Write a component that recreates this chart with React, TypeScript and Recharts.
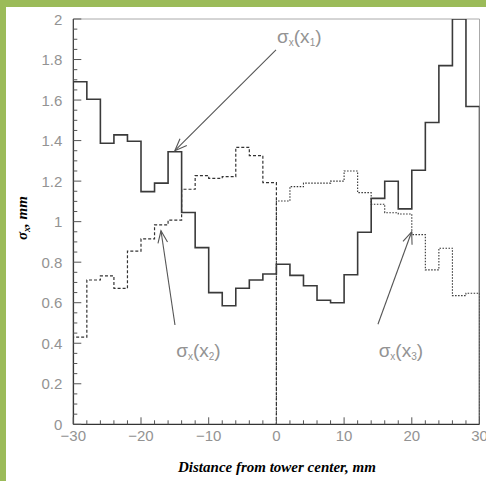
import React from 'react';
import { LineChart, Line, XAxis, YAxis, ReferenceLine, ReferenceDot } from 'recharts';

// bin left edges (mm), bin width 2 mm
const binEdgesAll = [-30, -28, -26, -24, -22, -20, -18, -16, -14, -12, -10, -8, -6, -4, -2, 0, 2, 4, 6, 8, 10, 12, 14, 16, 18, 20, 22, 24, 26, 28];
const binEdgesNeg = [-30, -28, -26, -24, -22, -20, -18, -16, -14, -12, -10, -8, -6, -4, -2];
const binEdgesPos = [0, 2, 4, 6, 8, 10, 12, 14, 16, 18, 20, 22, 24, 26, 28];

// sigma_x(x1): solid histogram over full range
const sigmaX1 = [1.69, 1.604, 1.387, 1.428, 1.397, 1.148, 1.19, 1.345, 1.045, 0.872, 0.65, 0.585, 0.671, 0.712, 0.742,
  0.79, 0.735, 0.684, 0.612, 0.6, 0.738, 0.948, 1.115, 1.199, 1.063, 1.254, 1.489, 1.77, 2.0, 1.568];
// sigma_x(x2): dashed, negative side
const sigmaX2 = [0.43, 0.712, 0.732, 0.671, 0.855, 0.915, 0.984, 1.008, 1.16, 1.227, 1.214, 1.222, 1.367, 1.326, 1.193];
// sigma_x(x3): dotted, positive side
const sigmaX3 = [1.102, 1.173, 1.19, 1.19, 1.2, 1.25, 1.143, 1.086, 1.044, 1.038, 0.936, 0.762, 0.869, 0.635, 0.647];

const xTickLabels = [-30, -20, -10, 0, 10, 20, 30];
const yTickLabels = [0, 0.2, 0.4, 0.6, 0.8, 1, 1.2, 1.4, 1.6, 1.8, 2];

// annotations: [label-end, tip] in data units
const arrowX1 = [{ x: -0.06, y: 1.848 }, { x: -15.0, y: 1.35 }];
const arrowX2 = [{ x: -14.98, y: 0.49 }, { x: -17.05, y: 0.955 }];
const arrowX3 = [{ x: 15.0, y: 0.494 }, { x: 19.98, y: 0.95 }];
const labels = [
  { x: 0.1, y: 1.88, sub: '1' },
  { x: -14.8, y: 0.33, sub: '2' },
  { x: 15.1, y: 0.33, sub: '3' },
];

function histPoints(edges: number[], vals: number[], end: number) {
  const pts = [{ x: edges[0], y: 0 }];
  edges.forEach((e, i) => pts.push({ x: e, y: vals[i] }));
  pts.push({ x: end, y: vals[vals.length - 1] });
  pts.push({ x: end, y: 0 });
  return pts;
}

const dataX1 = histPoints(binEdgesAll, sigmaX1, 30);
const dataX2 = histPoints(binEdgesNeg, sigmaX2, 0);
const dataX3 = histPoints(binEdgesPos, sigmaX3, 30);

const xTicks: number[] = [];
for (let v = -30; v <= 30; v += 2) xTicks.push(v);
const yTicks: number[] = [];
for (let i = 0; i <= 40; i++) yTicks.push(Math.round(i * 5) / 100);

const labelColor = '#939393';
const tickFont = 'Liberation Sans, Arial, sans-serif';

const XTick = (p: any) => {
  const { x, y, payload } = p;
  const v = payload.value;
  const major = xTickLabels.some((t) => Math.abs(t - v) < 1e-6);
  return (
    <g>
      <line x1={x} x2={x} y1={y} y2={y - (major ? 7 : 4)} stroke="#555" strokeWidth={1} />
      {major && (
        <text x={x} y={y + 16.5} textAnchor="middle" fontSize={15} fill={labelColor} fontFamily={tickFont}>
          {v < 0 ? '\u2212' + Math.abs(v) : String(v)}
        </text>
      )}
    </g>
  );
};

const YTick = (p: any) => {
  const { x, y, payload } = p;
  const v = payload.value;
  const major = yTickLabels.some((t) => Math.abs(t - v) < 1e-6);
  return (
    <g>
      <line x1={x} x2={x + (major ? 8 : 4)} y1={y} y2={y} stroke="#555" strokeWidth={1} />
      {major && (
        <text x={x - 11} y={y + 5.5} textAnchor="end" fontSize={15} fill={labelColor} fontFamily={tickFont}>
          {String(v)}
        </text>
      )}
    </g>
  );
};

const ArrowShape = (p: any) => {
  const { x1, y1, x2, y2 } = p;
  const ang = Math.atan2(y2 - y1, x2 - x1);
  const L = 13;
  const a = 0.38;
  const ax = x2 - L * Math.cos(ang - a);
  const ay = y2 - L * Math.sin(ang - a);
  const bx = x2 - L * Math.cos(ang + a);
  const by = y2 - L * Math.sin(ang + a);
  return (
    <g>
      <line x1={x1} y1={y1} x2={x2} y2={y2} stroke="#555" strokeWidth={1.1} />
      <polyline points={`${ax},${ay} ${x2},${y2} ${bx},${by}`} fill="none" stroke="#555" strokeWidth={1.1} />
    </g>
  );
};

const makeLabelShape = (sub: string) => (p: any) => {
  const { cx, cy } = p;
  return (
    <text x={cx} y={cy} fill={labelColor} fontFamily={tickFont} fontSize={19}>
      <tspan>σ</tspan>
      <tspan fontSize={10} dy={3}>x</tspan>
      <tspan dy={-3}>(x</tspan>
      <tspan fontSize={10} dy={3}>{sub}</tspan>
      <tspan dy={-3}>)</tspan>
    </text>
  );
};

export default function App() {
  return (
    <div style={{ position: 'absolute', left: 0, top: 0, width: 486, height: 481, background: '#fff', overflow: 'hidden' }}>
      <div style={{ position: 'absolute', left: 0, top: 0, width: 486, height: 7, background: '#9bbb59' }} />
      <div style={{ position: 'absolute', left: 0, top: 0, width: 6, height: 481, background: '#9bbb59' }} />
      <div style={{ position: 'absolute', left: 0, top: 0 }}>
        <LineChart width={486} height={481} margin={{ top: 19, right: 6.5, bottom: 0, left: 0 }}>
          <XAxis
            type="number"
            dataKey="x"
            domain={[-30, 30]}
            ticks={xTicks}
            interval={0}
            tickSize={0}
            tickMargin={0}
            tickLine={false}
            tick={<XTick />}
            height={56.7}
            axisLine={{ stroke: '#333', strokeWidth: 1.2 }}
            allowDataOverflow
          />
          <YAxis
            type="number"
            dataKey="y"
            domain={[0, 2]}
            ticks={yTicks}
            interval={0}
            tickSize={0}
            tickMargin={0}
            tickLine={false}
            tick={<YTick />}
            width={73.3}
            axisLine={{ stroke: '#333', strokeWidth: 1.2 }}
            allowDataOverflow
          />
          <ReferenceLine y={2} stroke="#aaa" strokeWidth={1} />
          <ReferenceLine x={30} stroke="#aaa" strokeWidth={1} />
          <Line data={dataX2} dataKey="y" type="stepAfter" stroke="#333" strokeWidth={1.2} strokeDasharray="3 2" dot={false} isAnimationActive={false} />
          <Line data={dataX3} dataKey="y" type="stepAfter" stroke="#333" strokeWidth={1.1} strokeDasharray="1.5 1.5" dot={false} isAnimationActive={false} />
          <Line data={dataX1} dataKey="y" type="stepAfter" stroke="#3a3a3a" strokeWidth={1.6} dot={false} isAnimationActive={false} />
          <ReferenceLine segment={arrowX1} shape={ArrowShape} />
          <ReferenceLine segment={arrowX2} shape={ArrowShape} />
          <ReferenceLine segment={arrowX3} shape={ArrowShape} />
          {labels.map((l) => (
            <ReferenceDot key={l.sub} x={l.x} y={l.y} r={0} shape={makeLabelShape(l.sub)} />
          ))}
        </LineChart>
      </div>
      <svg width={486} height={481} style={{ position: 'absolute', left: 0, top: 0, pointerEvents: 'none' }}>
        <text x={277} y={472} textAnchor="middle" fontFamily="Liberation Serif, Times New Roman, serif" fontWeight="bold" fontStyle="italic" fontSize={15} fill="#000">
          Distance from tower center, mm
        </text>
        <text transform="translate(27,218) rotate(-90)" textAnchor="middle" fontFamily="Liberation Serif, Times New Roman, serif" fontWeight="bold" fontStyle="italic" fontSize={15} fill="#000">
          <tspan>σ</tspan>
          <tspan fontSize={10} dy={3}>x</tspan>
          <tspan dy={-3}>, mm</tspan>
        </text>
      </svg>
    </div>
  );
}
